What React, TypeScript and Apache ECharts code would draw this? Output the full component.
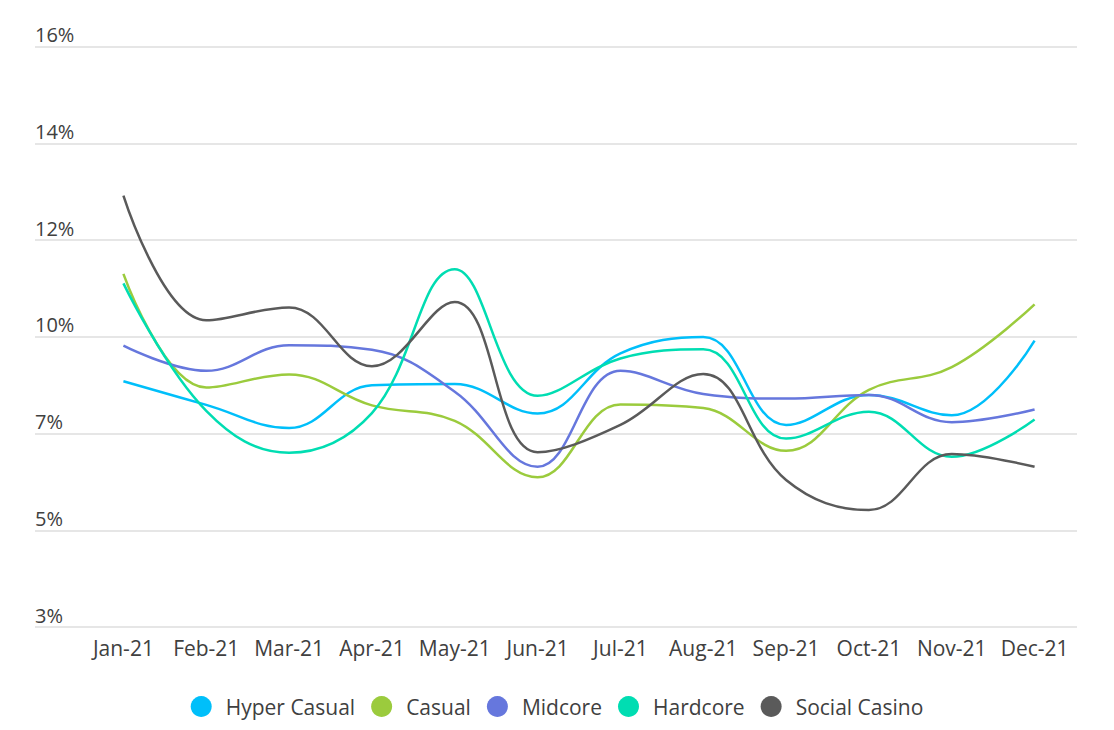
import React, { useEffect, useRef } from "react";
import * as echarts from "echarts";

const categories = ["Jan-21", "Feb-21", "Mar-21", "Apr-21", "May-21", "Jun-21", "Jul-21", "Aug-21", "Sep-21", "Oct-21", "Nov-21", "Dec-21"];
const hyperCasual = [8.65, 8.13, 7.62, 8.56, 8.59, 7.94, 9.26, 9.62, 7.69, 8.35, 7.9, 9.54];
const casual = [11.01, 8.51, 8.8, 8.12, 7.78, 6.54, 8.14, 8.06, 7.12, 8.46, 8.96, 10.34];
const midcore = [9.43, 8.88, 9.44, 9.34, 8.42, 6.77, 8.88, 8.37, 8.27, 8.35, 7.75, 8.03];
const hardcore = [10.8, 8.0, 7.08, 7.95, 11.11, 8.33, 9.15, 9.35, 7.39, 7.98, 6.99, 7.81];
const socialCasino = [12.73, 9.99, 10.27, 8.98, 10.39, 7.09, 7.69, 8.81, 6.48, 5.82, 7.05, 6.77];
const seriesNames = ["Hyper Casual", "Casual", "Midcore", "Hardcore", "Social Casino"];
const seriesColors = ["#00BFFA", "#9BCB3D", "#6677DD", "#00DDB2", "#5A5A5A"];
const yTickLabels = ["3%", "5%", "7%", "10%", "12%", "14%", "16%"];
const Y_MIN = 3.25;
const Y_MAX = 16;
const Y_STEP = 2.125;

const FONT = "'Open Sans', 'Noto Sans', sans-serif";
const TEXT_COLOR = "#404040";

export default function App() {
  const ref = useRef<HTMLDivElement>(null);
  useEffect(() => {
    if (!ref.current) return;
    const chart = echarts.init(ref.current, undefined, { renderer: "svg" });
    const values = [hyperCasual, casual, midcore, hardcore, socialCasino];
    chart.setOption({
      animation: false,
      backgroundColor: "#ffffff",
      textStyle: { fontFamily: FONT },
      grid: [
        { left: 35, right: 37, top: 46.7, bottom: 103 },
        { left: 82, right: 38, top: 46.7, bottom: 103 },
      ],
      xAxis: [
        { type: "value", gridIndex: 0, min: 0, max: 1, show: false },
        {
          type: "category",
          gridIndex: 1,
          data: categories,
          boundaryGap: true,
          axisLine: { show: false },
          axisTick: { show: false },
          axisLabel: { interval: 0, fontSize: 21, color: TEXT_COLOR, margin: 10, fontFamily: FONT },
        },
      ],
      yAxis: [
        {
          type: "value",
          gridIndex: 0,
          min: Y_MIN,
          max: Y_MAX,
          interval: Y_STEP,
          axisLine: { show: false },
          axisTick: { show: false },
          splitLine: { lineStyle: { color: "#dedede", width: 1.5 } },
          axisLabel: {
            inside: true,
            margin: 0,
            align: "left",
            verticalAlign: "bottom",
            padding: [0, 0, 2, 0],
            fontSize: 20,
            color: TEXT_COLOR,
            fontFamily: FONT,
            formatter: (v: number) => yTickLabels[Math.round((v - Y_MIN) / Y_STEP)] ?? "",
          },
        },
        { type: "value", gridIndex: 1, min: Y_MIN, max: Y_MAX, show: false, splitLine: { show: false } },
      ],
      legend: {
        data: seriesNames,
        left: "center",
        top: 691,
        icon: "circle",
        itemWidth: 21,
        itemHeight: 21,
        itemGap: 16,
        textStyle: { fontSize: 21, color: TEXT_COLOR, fontFamily: FONT, padding: [0, 0, 0, 9] },
      },
      series: seriesNames.map((name, i) => ({
        name,
        type: "line",
        xAxisIndex: 1,
        yAxisIndex: 1,
        data: values[i],
        smooth: 0.4,
        showSymbol: false,
        symbol: "none",
        color: seriesColors[i],
        lineStyle: { width: 2.5, color: seriesColors[i] },
      })),
    });
    return () => chart.dispose();
  }, []);
  return (
    <div
      ref={ref}
      style={{ position: "fixed", left: 0, top: 0, width: 1114, height: 730, background: "#fff" }}
    />
  );
}
